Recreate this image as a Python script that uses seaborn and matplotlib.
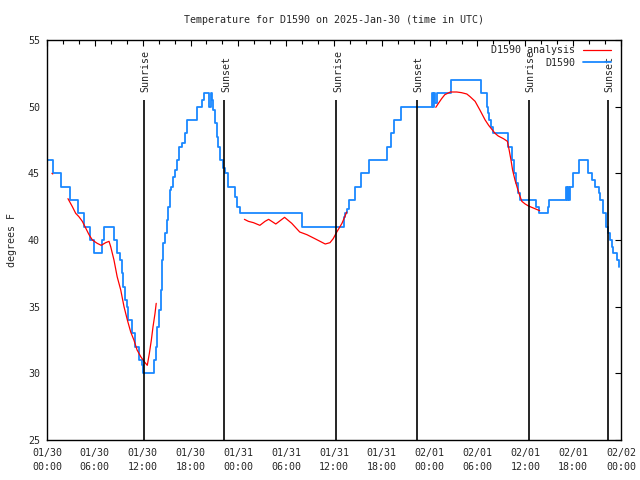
"""
Temperature for D1590 with analysis curve and sunrise/sunset markers
"""

import numpy as np
import pandas as pd
import matplotlib
matplotlib.use('Agg')  # no display
import matplotlib.pyplot as plt
import seaborn as sns

# --- data (hours since 2025-01-30 00:00 UTC) ---
obs_hours = [0.0, 0.75, 1.8, 2.85, 3.9, 4.6, 5.35, 5.9, 6.85, 7.1, 8.4, 8.8, 9.15, 9.35,
             9.55, 9.8, 10.0, 10.2, 10.6, 11.0, 11.5, 11.9, 12.1, 13.46, 13.64, 13.84,
             14.05, 14.27, 14.43, 14.6, 14.8, 15.0, 15.2, 15.43, 15.56, 15.85, 16.06,
             16.27, 16.56, 16.9, 17.3, 17.53, 18.86, 19.4, 19.74, 20.33, 20.54, 20.74,
             20.87, 21.08, 21.29, 21.5, 21.7, 22.12, 22.33, 22.75, 23.6, 23.88, 24.2,
             32.0, 37.2, 37.4, 37.6, 37.9, 38.6, 39.4, 40.4, 42.6, 43.2, 43.5, 44.4,
             48.3, 48.4, 48.55, 48.7, 48.9, 50.7, 54.4, 55.2, 55.3, 55.5, 55.7, 56.0,
             57.8, 58.3, 58.6, 58.8, 59.1, 59.3, 61.3, 61.7, 62.85, 63.0, 65.1, 65.25,
             65.4, 65.5, 65.6, 66.0, 66.7, 67.9, 68.4, 68.75, 69.2, 69.4, 69.8, 70.1,
             70.4, 70.6, 70.9, 71.05, 71.5, 71.8]
obs_temps = [46, 45, 44, 43, 42, 41, 40, 39, 40, 41, 40, 39, 38.5, 37.5,
             36.5, 35.5, 35, 34, 33, 32, 31, 30.6, 30, 31, 32, 33.5,
             34.75, 36.25, 38.5, 39.75, 40.5, 41.5, 42.5, 43.75, 44, 44.75, 45.25,
             46, 47, 47.25, 48, 49, 50, 50.5, 51, 50, 51, 50.5,
             49.75, 48.75, 47.75, 47, 46, 45.4, 45, 44, 43.25, 42.5, 42,
             41, 41.75, 42, 42.3, 43, 44, 45, 46, 47, 48, 49, 50,
             51, 50, 51, 50.3, 51, 52, 51, 50, 49.5, 49, 48.5, 48,
             47, 46, 45, 44.3, 43.5, 43, 42.5, 42, 42.5, 43, 44, 43,
             44, 43, 44, 45, 46, 45, 44.5, 44, 43.5, 43, 42, 41,
             40.5, 40, 39.5, 39, 38.5, 38]

# analysis curve, broken into separate pieces
ana_hours = [
    [0.62, 0.72],
    [2.63, 3.18, 3.6, 4.0, 4.43, 4.85, 5.27, 5.69, 6.3, 6.8, 7.36, 7.78, 7.99, 8.4,
     8.8, 9.25, 9.66, 10.08, 10.5, 10.9, 11.3, 11.76, 12.17, 12.58, 12.84, 13.09,
     13.3, 13.55, 13.7],
    [24.76, 25.26, 25.9, 26.7, 27.35, 27.8, 28.7, 29.8, 30.7, 31.7, 32.6, 33.6,
     34.25, 34.9, 35.5, 35.9, 36.35, 37.0, 37.6],
    [48.77, 49.1, 49.5, 49.9, 50.6, 51.4, 52.0, 52.66, 53.07, 53.7, 54.3, 54.96,
     55.4, 55.8, 56.2, 56.6, 57.25, 57.75, 57.97, 58.2, 58.4, 58.7, 59.0, 59.26,
     59.56, 59.98, 60.4, 61.0, 61.6, 61.8],
]
ana_temps = [
    [45.0, 44.95],
    [43.1, 42.5, 42.0, 41.75, 41.4, 40.9, 40.4, 40.0, 39.75, 39.6, 39.8, 39.9, 39.5,
     38.5, 37.25, 36.25, 35.0, 34.0, 33.1, 32.5, 31.75, 31.25, 30.9, 30.6, 31.5,
     32.5, 33.5, 34.5, 35.25],
    [41.55, 41.4, 41.3, 41.1, 41.4, 41.55, 41.2, 41.7, 41.25, 40.6, 40.4, 40.1,
     39.9, 39.7, 39.8, 40.1, 40.6, 41.25, 42.1],
    [49.95, 50.25, 50.6, 50.9, 51.1, 51.1, 51.05, 50.95, 50.75, 50.4, 49.75, 49.0,
     48.6, 48.3, 48.0, 47.8, 47.6, 47.4, 46.75, 46.0, 45.25, 44.5, 43.9, 43.4,
     42.9, 42.7, 42.55, 42.4, 42.25, 42.2],
]

sun_hours = [12.2, 22.25, 36.3, 46.4, 60.4, 70.4]
sun_labels = ['Sunrise', 'Sunset', 'Sunrise', 'Sunset', 'Sunrise', 'Sunset']

xtick_hours = list(range(0, 73, 6))
xtick_labels = ['01/30\n00:00', '01/30\n06:00', '01/30\n12:00', '01/30\n18:00',
                '01/31\n00:00', '01/31\n06:00', '01/31\n12:00', '01/31\n18:00',
                '02/01\n00:00', '02/01\n06:00', '02/01\n12:00', '02/01\n18:00',
                '02/02\n00:00']
ytick_values = [25, 30, 35, 40, 45, 50, 55]

title = 'Temperature for D1590 on 2025-Jan-30 (time in UTC)'


def main():
    sns.set_style("white", {'axes.edgecolor': 'black'})
    plt.rcParams['font.family'] = ['DejaVu Sans Mono']
    plt.rcParams['font.size'] = 7.2

    fig = plt.figure(figsize=(6.4, 4.8), dpi=100)
    ax = fig.add_axes([47 / 640, 40 / 480, 574 / 640, 400 / 480])

    # observations (stepped)
    obs = pd.DataFrame({'hour': obs_hours, 'temp': obs_temps})
    sns.lineplot(data=obs, x='hour', y='temp', ax=ax, color='#1a88ff', lw=1.3,
                 drawstyle='steps-post', estimator=None, sort=False, label='D1590')

    # analysis pieces
    for i, (hrs, tmps) in enumerate(zip(ana_hours, ana_temps)):
        seg = pd.DataFrame({'hour': hrs, 'temp': tmps})
        sns.lineplot(data=seg, x='hour', y='temp', ax=ax, color='red', lw=0.9,
                     estimator=None, sort=False,
                     label='D1590 analysis' if i == 0 else None)

    # sunrise / sunset markers
    ax.vlines(sun_hours, 25, 50.5, color='black', lw=1.2)
    for h, lab in zip(sun_hours, sun_labels):
        ax.text(h + 0.2, 51.1, lab, rotation=90, ha='center', va='bottom')

    ax.set_xlim(0, 72)
    ax.set_ylim(25, 55)
    ax.set_xticks(xtick_hours)
    ax.set_xticklabels(xtick_labels, linespacing=1.5)
    ax.set_xticks(np.arange(0, 73, 2), minor=True)
    ax.set_yticks(ytick_values)
    ax.tick_params(which='both', direction='in', top=True, right=True,
                   color='black', width=0.8)
    ax.tick_params(which='major', length=4.5)
    ax.tick_params(axis='x', which='major', pad=6)
    ax.tick_params(axis='y', which='major', pad=5)
    ax.tick_params(which='minor', length=3)
    for s in ax.spines.values():
        s.set_linewidth(1.0)
        s.set_color('black')

    ax.set_xlabel('')
    ax.set_ylabel('degrees F', labelpad=8)
    ax.set_title(title, pad=12, fontsize=7.2)

    handles, labels = ax.get_legend_handles_labels()
    order = [labels.index('D1590 analysis'), labels.index('D1590')]
    ax.legend([handles[k] for k in order], [labels[k] for k in order],
              loc='upper right', bbox_to_anchor=(0.995, 1.005), frameon=False,
              markerfirst=False, handlelength=2.8, handletextpad=0.8,
              labelspacing=0.25, borderpad=0.2)

    fig.savefig('out.png', dpi=100)
    plt.close(fig)


if __name__ == "__main__":
    main()
